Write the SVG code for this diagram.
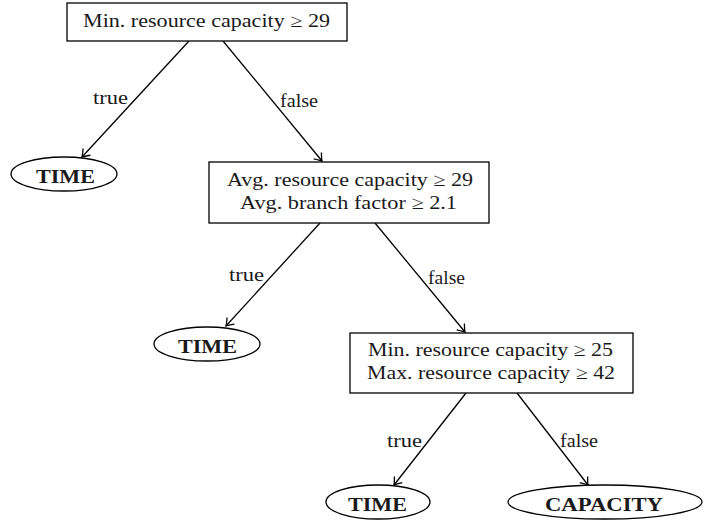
<svg xmlns="http://www.w3.org/2000/svg" width="720" height="523" viewBox="0 0 720 523">
<style>
  .box{fill:#fff;stroke:#000;stroke-width:1.3}
  .leaf{fill:#fff;stroke:#000;stroke-width:1.3}
  .t{font-family:"Liberation Serif","DejaVu Serif",serif;font-size:18.5px;fill:#1a1a1a}
  .b{font-family:"Liberation Serif","DejaVu Serif",serif;font-size:18.5px;font-weight:bold;fill:#1a1a1a}
  .e{stroke:#000;stroke-width:1.3;fill:none;marker-end:url(#arr)}
</style>
<defs>
  <marker id="arr" markerUnits="userSpaceOnUse" markerWidth="16" markerHeight="16" viewBox="-10 -8 12 16" refX="0" refY="0" orient="auto">
    <path d="M-7,-5 Q-2,-1 0,0 Q-2,1 -7,5" fill="none" stroke="#000" stroke-width="1.3"/>
  </marker>
</defs>
<g id="connectors">
  <line class="e" x1="189" y1="41" x2="82" y2="157"/>
  <line class="e" x1="223" y1="41" x2="322" y2="161"/>
  <line class="e" x1="320" y1="223" x2="226" y2="326"/>
  <line class="e" x1="375" y1="223" x2="465" y2="332"/>
  <line class="e" x1="466" y1="393" x2="394" y2="485"/>
  <line class="e" x1="517" y1="393" x2="588" y2="485"/>
  <text class="t" x="93" y="104" textLength="35" lengthAdjust="spacingAndGlyphs">true</text>
  <text class="t" x="280" y="107" textLength="38" lengthAdjust="spacingAndGlyphs">false</text>
  <text class="t" x="229" y="281" textLength="35" lengthAdjust="spacingAndGlyphs">true</text>
  <text class="t" x="428" y="284" textLength="37" lengthAdjust="spacingAndGlyphs">false</text>
  <text class="t" x="387" y="447" textLength="35" lengthAdjust="spacingAndGlyphs">true</text>
  <text class="t" x="560" y="447" textLength="38" lengthAdjust="spacingAndGlyphs">false</text>
</g>
<g id="n1">
  <rect class="box" x="67" y="3" width="280" height="38"/>
  <text class="t" x="83" y="27" textLength="247" lengthAdjust="spacingAndGlyphs">Min. resource capacity ≥ 29</text>
</g>
<g id="leaf1">
  <ellipse class="leaf" cx="64" cy="174" rx="53" ry="17"/>
  <text class="b" x="36" y="183" textLength="59" lengthAdjust="spacingAndGlyphs">TIME</text>
</g>
<g id="n2">
  <rect class="box" x="209" y="162" width="280" height="61"/>
  <text class="t" x="227" y="186" textLength="246" lengthAdjust="spacingAndGlyphs">Avg. resource capacity ≥ 29</text>
  <text class="t" x="240" y="209" textLength="217" lengthAdjust="spacingAndGlyphs">Avg. branch factor ≥ 2.1</text>
</g>
<g id="leaf2">
  <ellipse class="leaf" cx="207" cy="344" rx="53" ry="17"/>
  <text class="b" x="178" y="353" textLength="59" lengthAdjust="spacingAndGlyphs">TIME</text>
</g>
<g id="n3">
  <rect class="box" x="350" y="333" width="283" height="60"/>
  <text class="t" x="368" y="356" textLength="245" lengthAdjust="spacingAndGlyphs">Min. resource capacity ≥ 25</text>
  <text class="t" x="367" y="379" textLength="248" lengthAdjust="spacingAndGlyphs">Max. resource capacity ≥ 42</text>
</g>
<g id="leaf3">
  <ellipse class="leaf" cx="378" cy="502" rx="52" ry="17"/>
  <text class="b" x="348" y="511" textLength="59" lengthAdjust="spacingAndGlyphs">TIME</text>
</g>
<g id="leaf4">
  <ellipse class="leaf" cx="605" cy="502" rx="97" ry="17"/>
  <text class="b" x="545" y="511" textLength="118" lengthAdjust="spacingAndGlyphs">CAPACITY</text>
</g>
</svg>
